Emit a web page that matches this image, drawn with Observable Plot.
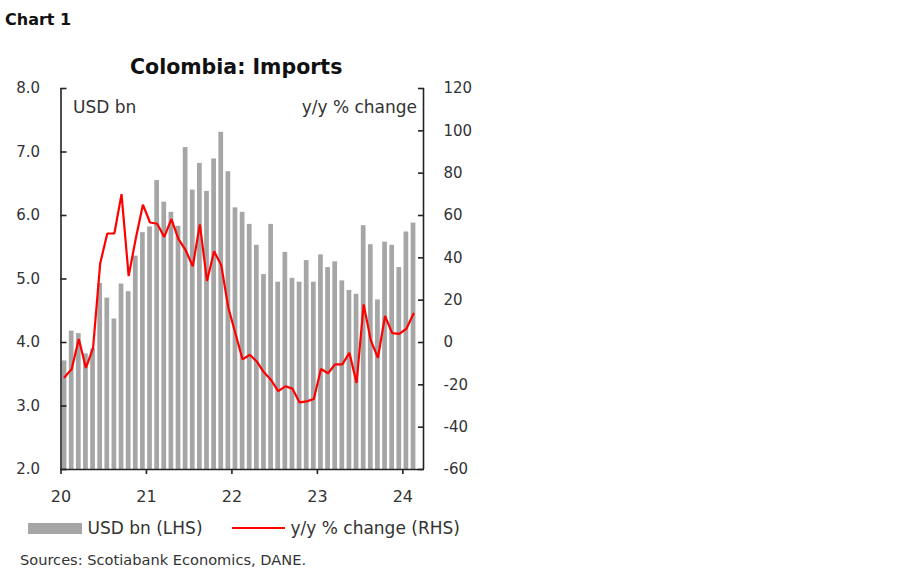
<!DOCTYPE html>
<html>
<head>
<meta charset="utf-8">
<script src="https://cdn.jsdelivr.net/npm/d3@7"></script>
<script src="https://cdn.jsdelivr.net/npm/@observablehq/plot@0.6"></script>
<style>
  html, body { margin: 0; padding: 0; background: #fff; }
  #wrap { position: relative; width: 900px; height: 579px; font-family: "DejaVu Sans", sans-serif; color: #333; overflow: hidden; }
  .abs { position: absolute; white-space: nowrap; line-height: 1; }
  #chartno { left: 5px; top: 12px; font-size: 16px; font-weight: 700; color: #111; }
  #title { left: 130px; top: 56.5px; font-size: 20.5px; font-weight: 700; color: #111; }
  #plot { left: 0; top: 60px; }
  .sw { position: absolute; }
  .lg { font-size: 17px; color: #333; top: 520px; }
  #src { left: 20px; top: 552.5px; font-size: 14.6px; color: #333; }
</style>
</head>
<body>
<div id="wrap">
  <div id="chartno" class="abs">Chart 1</div>
  <div id="title" class="abs">Colombia: Imports</div>
  <div id="plot" class="abs"></div>
  <div class="sw" style="left:28px; top:523px; width:54px; height:11px; background:#a6a6a6;"></div>
  <div class="abs lg" style="left:87.5px;">USD bn (LHS)</div>
  <div class="sw" style="left:232px; top:526.5px; width:53px; height:2px; background:#ff0000;"></div>
  <div class="abs lg" style="left:290.5px;">y/y % change (RHS)</div>
  <div id="src" class="abs">Sources: Scotiabank Economics, DANE.</div>
</div>
<script>
// Monthly data, Jan 2020 – Feb 2024
const usdBn = [3.71, 4.18, 4.14, 3.82, 3.90, 4.93, 4.70, 4.37, 4.92, 4.80, 5.36, 5.73,
               5.82, 6.55, 6.21, 6.05, 5.83, 7.07, 6.40, 6.82, 6.38, 6.89, 7.31, 6.69,
               6.12, 6.05, 5.86, 5.53, 5.07, 5.86, 4.95, 5.42, 5.01, 4.95, 5.29, 4.95,
               5.38, 5.18, 5.27, 4.97, 4.82, 4.76, 5.84, 5.54, 4.67, 5.58, 5.53, 5.18,
               5.74, 5.88];
const yoyPct = [-16.4, -12.5, 1.7, -12.0, -2.7, 37.3, 51.5, 51.6, 70.1, 31.4, 49.1, 65.1,
                56.7, 56.1, 49.9, 58.3, 48.8, 43.6, 36.0, 55.8, 29.1, 43.1, 36.5, 16.4,
                4.1, -8.0, -5.8, -9.0, -14.1, -17.7, -23.0, -20.7, -21.8, -28.3, -27.8, -26.7,
                -12.5, -14.5, -10.3, -10.3, -4.9, -19.1, 18.0, 1.0, -7.2, 12.5, 4.4, 4.1,
                6.5, 13.6];
const xTickMonths = [0, 12, 24, 36, 48];
const xTickLabels = ["20", "21", "22", "23", "24"];
const leftTicks = [2, 3, 4, 5, 6, 7, 8];
const rightTicks = [-60, -40, -20, 0, 20, 40, 60, 80, 100, 120];
const leftDomain = [2, 8];
const rightDomain = [-60, 120];
const xDomain = [0, 50.9];

// map the right-hand (%) scale onto the left-hand y scale
const toLeft = d3.scaleLinear().domain(rightDomain).range(leftDomain);
const rightPos = rightTicks.map(toLeft);

const rows = usdBn.map((v, i) => ({i, usd: v, yoy: yoyPct[i]}));

const chart = Plot.plot({
  width: 480,
  height: 450,
  marginTop: 28,
  marginBottom: 41,
  marginLeft: 60.5,
  marginRight: 57,
  style: {fontFamily: "DejaVu Sans", fontSize: "15px", color: "#333", background: "transparent"},
  x: {domain: xDomain, axis: null},
  y: {domain: leftDomain, axis: null},
  marks: [
    Plot.rectY(rows, {x1: "i", x2: d => d.i + 1, y1: leftDomain[0], y2: "usd", fill: "#a6a6a6", insetLeft: 1.2, insetRight: 1.2}),
    Plot.lineY(rows, {x: d => d.i + 0.5, y: d => toLeft(d.yoy), stroke: "#ff0000", strokeWidth: 2.2, strokeLinejoin: "miter"}),
    Plot.ruleX(xDomain, {stroke: "#222", strokeWidth: 1.6}),
    Plot.ruleY([leftDomain[0]], {stroke: "#222", strokeWidth: 1.6}),
    Plot.axisY(leftTicks, {anchor: "left", label: null, tickSize: 6, dx: 6, tickPadding: 21, strokeWidth: 1.6, stroke: "#222",
      tickFormat: d3.format(".1f"), fontSize: 15}),
    Plot.axisY(rightPos, {anchor: "right", label: null, tickSize: 6, dx: -6, tickPadding: 20, strokeWidth: 1.6, stroke: "#222",
      tickFormat: d => String(rightTicks[rightPos.indexOf(d)]), fontSize: 15}),
    Plot.axisX(xTickMonths, {anchor: "bottom", label: null, tickSize: 5, tickPadding: 16, strokeWidth: 1.6, stroke: "#222",
      tickFormat: d => xTickLabels[xTickMonths.indexOf(d)], fontSize: 16}),
    Plot.text(["USD bn"], {text: d => d, frameAnchor: "top-left", textAnchor: "start", lineAnchor: "bottom", dx: 12, dy: 24, fontSize: 17, fill: "#333"}),
    Plot.text(["y/y % change"], {text: d => d, frameAnchor: "top-right", textAnchor: "end", lineAnchor: "bottom", dx: -6.5, dy: 24.5, fontSize: 17, fill: "#333"})
  ]
});
document.getElementById("plot").appendChild(chart);
</script>
</body>
</html>
